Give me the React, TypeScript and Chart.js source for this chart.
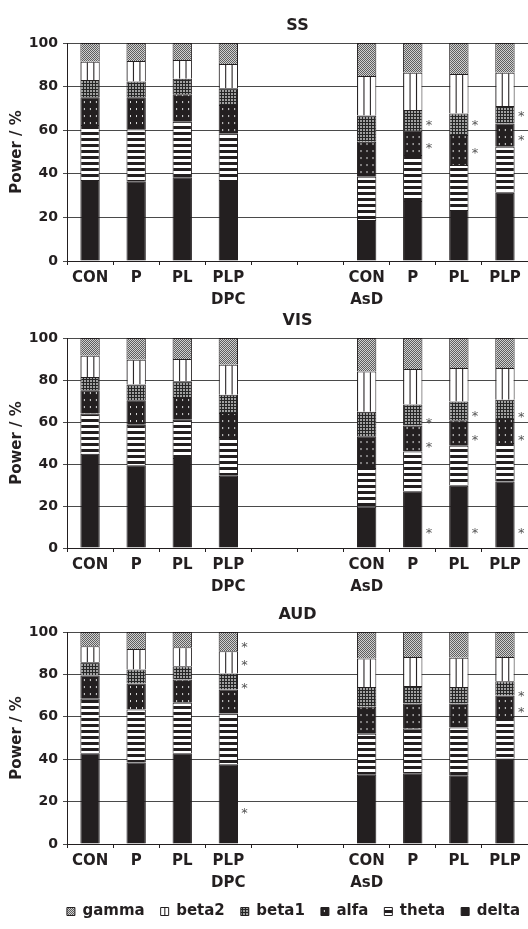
import React, { useEffect, useRef } from 'react';
import { Chart, registerables } from 'chart.js';

Chart.register(...registerables);

// ---------- data ----------
const categories = ['CON', 'P', 'PL', 'PLP', '', '', 'CON', 'P', 'PL', 'PLP'];
const groupLabels = ['DPC', 'AsD'];
const groupCenters = [2, 8];
const bandNames = ['delta', 'theta', 'alfa', 'beta1', 'beta2', 'gamma'];
const panelTitles = ['SS', 'VIS', 'AUD'];
const yAxisTitle = 'Power / %';

// SS (segment sizes, % of power)
const ssDelta = [37.2, 36.4, 38.4, 37.2, null, null, 18.8, 27.5, 23.4, 31.3];
const ssTheta = [25.2, 24.0, 25.5, 21.4, null, null, 19.9, 21.1, 20.6, 21.1];
const ssAlfa = [12.7, 14.7, 12.6, 13.0, null, null, 16.0, 11.2, 13.8, 10.7];
const ssBeta1 = [7.9, 7.2, 7.1, 7.6, null, null, 12.0, 9.5, 9.9, 8.0];
const ssBeta2 = [8.4, 9.4, 8.6, 11.2, null, null, 18.2, 17.1, 18.1, 15.3];
const ssGamma = [8.6, 8.3, 7.8, 9.6, null, null, 15.1, 13.6, 14.2, 13.6];

// VIS
const visDelta = [44.9, 39.4, 42.9, 34.4, null, null, 19.8, 27.0, 29.7, 31.7];
const visTheta = [19.1, 19.3, 18.2, 18.5, null, null, 18.3, 19.0, 19.0, 18.3];
const visAlfa = [11.1, 11.6, 10.8, 11.4, null, null, 15.1, 12.3, 12.1, 11.4];
const visBeta1 = [6.3, 7.5, 7.5, 8.7, null, null, 11.7, 10.0, 9.0, 9.2];
const visBeta2 = [10.2, 11.9, 10.6, 14.3, null, null, 19.2, 16.9, 15.9, 15.1];
const visGamma = [8.4, 10.3, 10.0, 12.7, null, null, 15.9, 14.8, 14.3, 14.3];

// AUD
const audDelta = [42.8, 38.4, 42.8, 37.6, null, null, 32.9, 33.4, 32.4, 40.3];
const audTheta = [25.7, 25.1, 23.8, 24.0, null, null, 19.1, 21.0, 22.5, 19.6];
const audAlfa = [11.0, 12.2, 11.0, 11.3, null, null, 12.7, 11.9, 11.4, 10.2];
const audBeta1 = [6.2, 6.6, 6.3, 7.5, null, null, 9.3, 8.2, 7.7, 6.7];
const audBeta2 = [7.6, 9.7, 8.9, 10.5, null, null, 13.5, 13.7, 13.8, 11.4];
const audGamma = [6.7, 8.0, 7.2, 9.1, null, null, 12.5, 11.8, 12.2, 11.8];

// significance marks: [category index, value (%)]
const ssStars = [[7, 63.9], [7, 53.2], [8, 63.9], [8, 50.9], [9, 67.7], [9, 57.0]];
const visStars = [[7, 61.1], [7, 49.7], [7, 8.4], [8, 64.3], [8, 52.9], [8, 8.4], [9, 63.8], [9, 52.9], [9, 8.4]];
const audStars = [[3, 94.5], [3, 85.7], [3, 74.8], [3, 16.1], [9, 71.0], [9, 63.8]];

// ---------- style ----------
const INK = '#231f20';
const FONT = '"DejaVu Sans", sans-serif';
const BAR_FRACTION = 0.42;

function makeTile(kind: string): HTMLCanvasElement {
  const c = document.createElement('canvas');
  if (kind === 'theta') {
    c.width = 1; c.height = 6;
    const g = c.getContext('2d')!;
    g.fillStyle = '#ffffff'; g.fillRect(0, 0, 1, 6);
    g.fillStyle = INK; g.fillRect(0, 0, 1, 3);
  } else if (kind === 'alfa') {
    c.width = 6; c.height = 7;
    const g = c.getContext('2d')!;
    g.fillStyle = INK; g.fillRect(0, 0, 6, 7);
    g.fillStyle = '#d8d8d8'; g.fillRect(3, 3, 1, 2);
  } else if (kind === 'beta1') {
    c.width = 3; c.height = 3;
    const g = c.getContext('2d')!;
    g.fillStyle = '#262626'; g.fillRect(0, 0, 3, 3);
    g.fillStyle = '#a0a0a0'; g.fillRect(0, 0, 2, 2);
  } else if (kind === 'beta2') {
    c.width = 6; c.height = 1;
    const g = c.getContext('2d')!;
    g.fillStyle = '#ffffff'; g.fillRect(0, 0, 6, 1);
    g.fillStyle = INK; g.fillRect(0, 0, 1, 1);
  } else {
    // gamma
    c.width = 2; c.height = 2;
    const g = c.getContext('2d')!;
    g.fillStyle = '#d0d0d0'; g.fillRect(0, 0, 2, 2);
    g.fillStyle = '#5e5e5e'; g.fillRect(0, 0, 1, 1); g.fillRect(1, 1, 1, 1);
  }
  return c;
}

function bgFor(kind: string) {
  if (kind === 'delta') return INK;
  const tile = makeTile(kind);
  return (ctx: any) => {
    const chart = ctx.chart;
    const pattern = chart.ctx.createPattern(tile, 'repeat') as CanvasPattern;
    const xs = chart.scales && chart.scales.x;
    if (ctx.type === 'data' && xs && (kind === 'beta2' || kind === 'alfa')) {
      const bw = (xs.width / categories.length) * BAR_FRACTION;
      const left = xs.getPixelForValue(ctx.dataIndex) - bw / 2;
      const m = kind === 'beta2'
        ? new DOMMatrix().translate(left, 0).scale(bw / 18, 1)
        : new DOMMatrix().translate(left + 0.5, 0);
      pattern.setTransform(m);
    }
    return pattern;
  };
}

const starPlugin = {
  id: 'stars',
  afterDatasetsDraw(chart: any, _args: any, opts: any) {
    const items = (opts && opts.items) || [];
    const xs = chart.scales.x;
    const ys = chart.scales.y;
    const bw = (xs.width / categories.length) * BAR_FRACTION;
    const ctx = chart.ctx;
    ctx.save();
    ctx.font = `13px ${FONT}`;
    ctx.fillStyle = '#555555';
    ctx.textAlign = 'center';
    ctx.textBaseline = 'alphabetic';
    for (const [cat, v] of items) {
      const x = xs.getPixelForValue(cat) + bw / 2 + 6.5;
      const y = ys.getPixelForValue(v);
      ctx.fillText('*', x, y + 7);
    }
    ctx.restore();
  },
};

// nudges the legend row so it sits under the plot area like the original
const legendShiftPlugin = {
  id: 'legendShift',
  afterLayout(chart: any) {
    if (chart.legend && chart.options.plugins.legend.display) {
      chart.legend.left += 8;
      chart.legend.right += 8;
    }
  },
};

const panels = [
  { title: panelTitles[0], bands: [ssDelta, ssTheta, ssAlfa, ssBeta1, ssBeta2, ssGamma], stars: ssStars, top: 0, height: 305, titleTop: 16.4, legend: false },
  { title: panelTitles[1], bands: [visDelta, visTheta, visAlfa, visBeta1, visBeta2, visGamma], stars: visStars, top: 305, height: 287, titleTop: 6.4, legend: false },
  { title: panelTitles[2], bands: [audDelta, audTheta, audAlfa, audBeta1, audBeta2, audGamma], stars: audStars, top: 592, height: 337, titleTop: 13.4, legend: true },
];

function Panel({ spec }: { spec: any }) {
  const ref = useRef<HTMLCanvasElement>(null);
  useEffect(() => {
    const datasets = bandNames.map((name, i) => ({
      label: name,
      data: spec.bands[i],
      backgroundColor: bgFor(name),
      borderColor: INK,
      borderWidth: 1,
      barPercentage: BAR_FRACTION,
      categoryPercentage: 1,
      xAxisID: 'x',
      yAxisID: 'y',
    }));
    const chart = new Chart(ref.current!, {
      type: 'bar',
      data: { labels: categories, datasets },
      plugins: [starPlugin, legendShiftPlugin],
      options: {
        responsive: false,
        animation: false,
        events: [],
        layout: { padding: 0 },
        scales: {
          x: {
            type: 'category',
            stacked: true,
            offset: true,
            position: 'bottom',
            weight: 0,
            grid: { drawOnChartArea: false, drawTicks: true, tickLength: 4, color: INK, lineWidth: 1, offset: true },
            border: { color: INK, width: 1 },
            ticks: { font: { family: FONT, size: 15, weight: 'bold' }, color: INK, padding: 4, autoSkip: false, maxRotation: 0 },
            afterFit: (s: any) => { s.height = 22; },
          },
          xg: {
            type: 'linear',
            position: 'bottom',
            weight: 1,
            min: 0,
            max: categories.length,
            grid: { display: false, drawTicks: false },
            border: { display: false },
            ticks: {
              font: { family: FONT, size: 15, weight: 'bold' },
              color: INK,
              padding: 8,
              autoSkip: false,
              maxRotation: 0,
              callback: (v: any) => {
                const k = groupCenters.indexOf(v);
                return k >= 0 ? groupLabels[k] : '';
              },
            },
            afterBuildTicks: (s: any) => { s.ticks = groupCenters.map((v) => ({ value: v })); },
            afterFit: (s: any) => { s.height = 22; },
          },
          y: {
            stacked: true,
            min: 0,
            max: 100,
            ticks: { stepSize: 20, padding: 5, font: { family: FONT, size: 14, weight: 'bold' }, color: INK },
            grid: { color: '#4a4a4a', lineWidth: 1, tickLength: 4 },
            border: { color: INK, width: 1 },
            title: {
              display: true,
              text: yAxisTitle,
              font: { family: FONT, size: 15, weight: 'bold' },
              color: INK,
              padding: { top: 8, bottom: 0 },
            },
            afterFit: (s: any) => { s.width = 67; },
          },
        },
        plugins: {
          tooltip: { enabled: false },
          title: {
            display: true,
            text: spec.title,
            fullSize: false,
            color: INK,
            font: { family: FONT, size: 16, weight: 'bold' },
            padding: { top: spec.titleTop, bottom: 7.4 },
          },
          legend: {
            display: spec.legend,
            position: 'bottom',
            align: 'end',
            reverse: true,
            labels: {
              boxWidth: 8,
              boxHeight: 8,
              padding: 16,
              color: INK,
              font: { family: FONT, size: 15, weight: 'bold' },
            },
          },
          stars: { items: spec.stars },
        } as any,
      },
    } as any);
    return () => chart.destroy();
  }, []);
  return (
    <canvas
      ref={ref}
      width={528}
      height={spec.height}
      style={{ position: 'absolute', left: 0, top: spec.top, width: 528, height: spec.height }}
    />
  );
}

export default function App() {
  return (
    <div style={{ position: 'absolute', left: 0, top: 0, width: 528, height: 929, background: '#ffffff' }}>
      {panels.map((p) => (
        <Panel key={p.title} spec={p} />
      ))}
    </div>
  );
}
